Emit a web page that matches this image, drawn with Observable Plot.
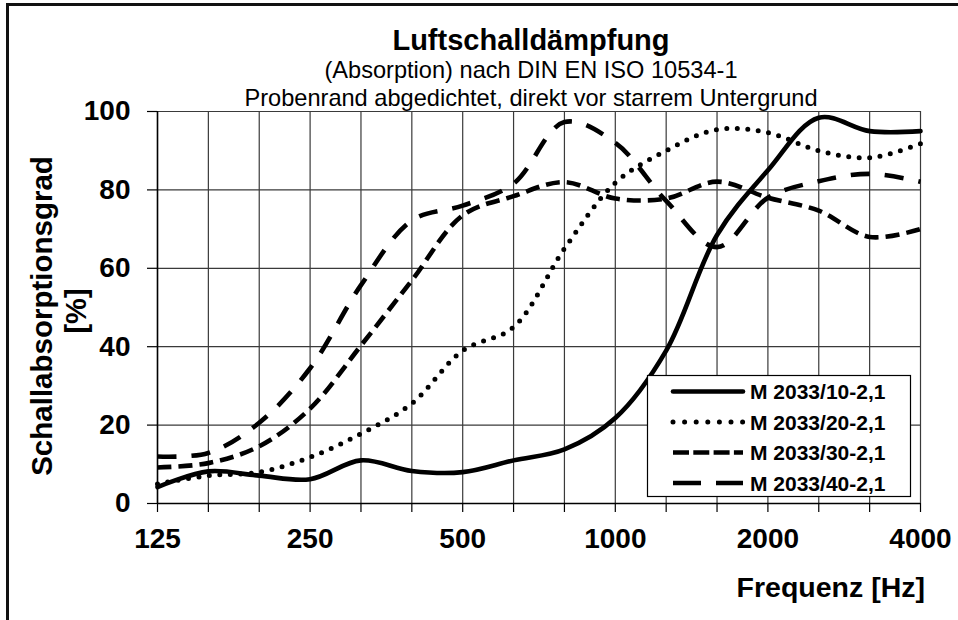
<!DOCTYPE html>
<html>
<head>
<meta charset="utf-8">
<script src="https://cdn.jsdelivr.net/npm/d3@7"></script>
<script src="https://cdn.jsdelivr.net/npm/@observablehq/plot@0.6"></script>
<style>
  html, body { margin: 0; padding: 0; background: #fff; overflow: hidden; }
  #wrap { position: relative; width: 958px; height: 620px; overflow: hidden; font-family: "Liberation Sans", Arial, sans-serif; }
  #border { position: absolute; left: 6px; top: 3px; width: 1000px; height: 700px; border: 3px solid #111; box-sizing: border-box; }
  #chart { position: absolute; left: 0; top: 0; }
  #overlay { position: absolute; left: 0; top: 0; pointer-events: none; }
</style>
</head>
<body>
<div id="wrap">
  <div id="border"></div>
  <div id="chart"></div>
  <svg id="overlay" width="958" height="620"></svg>
</div>
<script>
// ---- data ----
const bands = ["125","160","200","250","315","400","500","630","800","1000","1250","1600","2000","2500","3150","4000"];
const octaveLabels = ["125","250","500","1000","2000","4000"];
const yTicks = [0, 20, 40, 60, 80, 100];
const seriesNames = ["M 2033/10-2,1", "M 2033/20-2,1", "M 2033/30-2,1", "M 2033/40-2,1"];
const s10 = [4.2, 8.2, 7.1, 6.2, 11.0, 8.3, 8.0, 11.0, 13.8, 21.8, 39.0, 68.5, 85.0, 98.4, 95.0, 95.0];
const s20 = [5.0, 7.1, 8.0, 11.8, 17.8, 25.5, 39.0, 45.0, 65.0, 81.8, 90.0, 95.4, 94.6, 90.0, 88.2, 91.8];
const s30 = [9.2, 10.3, 14.6, 24.2, 40.3, 56.9, 73.5, 78.4, 82.0, 77.8, 77.8, 82.1, 78.0, 74.7, 68.0, 70.0];
const s40 = [12.0, 12.9, 20.6, 34.5, 55.7, 72.2, 76.0, 81.6, 97.3, 92.0, 77.2, 65.4, 78.0, 82.2, 84.1, 82.1];

const seriesValues = [s10, s20, s30, s40];
const styles = [
  { dash: null, cap: "round", width: 4.6, legendDash: null },
  { dash: "0 10.5", cap: "round", width: 5, legendDash: "0 11.6" },
  { dash: "14 7", cap: "butt", width: 4.6, legendDash: "16 4.3" },
  { dash: "19 15", cap: "butt", width: 4.6, legendDash: "28 15" }
];

const rows = [];
seriesValues.forEach((vals, s) => vals.forEach((v, i) => rows.push({ series: seriesNames[s], i, v })));
const bandIdx = bands.map((b, i) => i);

const font = '"Liberation Sans", Arial, sans-serif';

const lineMarks = seriesNames.map((name, s) => Plot.line(rows.filter(d => d.series === name), {
  x: "i", y: "v", curve: "catmull-rom", stroke: "#000",
  strokeWidth: styles[s].width, strokeLinecap: styles[s].cap, strokeLinejoin: "round",
  strokeDasharray: styles[s].dash || undefined
}));

const chart = Plot.plot({
  width: 958, height: 620,
  marginLeft: 157, marginRight: 38, marginTop: 111, marginBottom: 117,
  x: { type: "linear", domain: [0, bands.length - 1] },
  y: { domain: [0, 100] },
  style: { fontFamily: font, background: "transparent", color: "#000", overflow: "visible" },
  marks: [
    Plot.gridX(bandIdx, { stroke: "#3a3a3a", strokeOpacity: 1, strokeWidth: 1.2 }),
    Plot.gridY(yTicks, { stroke: "#3a3a3a", strokeOpacity: 1, strokeWidth: 1.2 }),
    Plot.axisX(bandIdx, {
      tickSize: 9, tickPadding: 16, fontSize: 28, fontWeight: "bold", label: null,
      tickFormat: i => octaveLabels.includes(bands[i]) ? bands[i] : "", strokeWidth: 1.2
    }),
    Plot.axisY(yTicks, { tickSize: 10, tickPadding: 17, fontSize: 28, fontWeight: "bold", label: null, strokeWidth: 1.2 }),
    Plot.ruleX([0], { stroke: "#000", strokeWidth: 1.5 }),
    Plot.ruleY([0], { stroke: "#000", strokeWidth: 1.5 }),
    ...lineMarks
  ]
});
document.getElementById("chart").appendChild(chart);

// ---- overlay texts & legend ----
const ov = d3.select("#overlay").style("font-family", font);
ov.append("text").attr("x", 531).attr("y", 50).attr("text-anchor", "middle")
  .attr("font-size", 29).attr("font-weight", "bold").text("Luftschalldämpfung");
ov.append("text").attr("x", 531).attr("y", 78).attr("text-anchor", "middle")
  .attr("font-size", 23.6).text("(Absorption) nach DIN EN ISO 10534-1");
ov.append("text").attr("x", 531).attr("y", 106).attr("text-anchor", "middle")
  .attr("font-size", 23.6).text("Probenrand abgedichtet, direkt vor starrem Untergrund");
ov.append("text").attr("transform", "translate(52,316) rotate(-90)").attr("text-anchor", "middle")
  .attr("font-size", 29.5).attr("font-weight", "bold").text("Schallabsorptionsgrad");
ov.append("text").attr("transform", "translate(86,311) rotate(-90)").attr("text-anchor", "middle")
  .attr("font-size", 29).attr("font-weight", "bold").text("[%]");
ov.append("text").attr("x", 925).attr("y", 597).attr("text-anchor", "end")
  .attr("font-size", 28.5).attr("font-weight", "bold").text("Frequenz [Hz]");

const lg = ov.append("g");
lg.append("rect").attr("x", 647.5).attr("y", 375.5).attr("width", 263).attr("height", 121)
  .attr("fill", "#fff").attr("stroke", "#000").attr("stroke-width", 1.2);
seriesNames.forEach((name, s) => {
  const cy = 391.5 + s * 30.5;
  const ln = lg.append("line").attr("x1", 673).attr("x2", 743).attr("y1", cy).attr("y2", cy)
    .attr("stroke", "#000").attr("stroke-width", styles[s].width).attr("stroke-linecap", styles[s].cap);
  if (styles[s].legendDash) ln.attr("stroke-dasharray", styles[s].legendDash);
  lg.append("text").attr("x", 750).attr("y", cy + 7.5).attr("font-size", 21).attr("font-weight", "bold").text(name);
});
</script>
</body>
</html>
